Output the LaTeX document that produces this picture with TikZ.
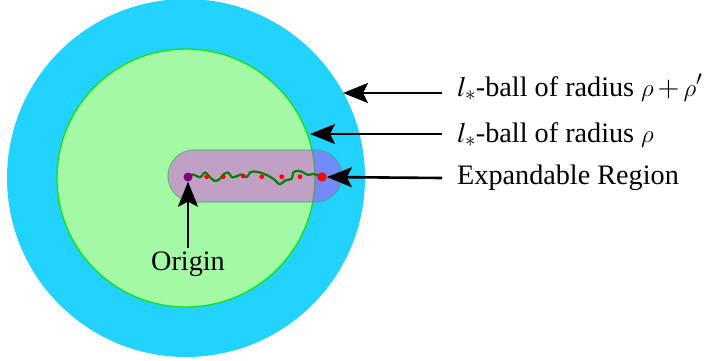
\documentclass[tikz,border=0pt]{standalone}
\usepackage{mathptmx}
\DeclareSymbolFont{cmletters}{OML}{cmm}{m}{it}
\DeclareMathSymbol{\rho}{\mathord}{cmletters}{"1A}
\usepackage[no-math]{fontspec}
\setmainfont{Liberation Serif}
\usetikzlibrary{arrows.meta}
\definecolor{outerc}{RGB}{34,211,255}
\definecolor{innerc}{RGB}{164,249,164}
\definecolor{innerb}{RGB}{20,225,20}
\definecolor{capc}{RGB}{236,30,245}
\definecolor{capb}{RGB}{60,170,120}
\definecolor{pathc}{RGB}{0,128,0}
\tikzset{
  lbl/.style={inner sep=0pt, anchor=base west, font=\fontsize{28.2}{34}\selectfont},
  arr/.style={line width=2.6pt, -{Stealth[length=25pt,width=20pt,inset=5pt]}},
  reddot/.style={fill=red},
}
\begin{document}
\begin{tikzpicture}[x=1pt,y=-1pt]
\useasboundingbox (0,0) rectangle (722,360);
% balls
\fill[outerc] (186,178) circle[radius=179pt];
\filldraw[fill=innerc, draw=innerb, line width=1.3pt] (186,178) circle[radius=129pt];
% expandable region
\filldraw[fill=capc, fill opacity=0.4, draw=capb, draw opacity=0.6, line width=1.2pt, rounded corners=26pt]
  (168,150) rectangle (342,202);
% random walk
\draw[pathc, line width=2.2pt, line join=round] plot[smooth, tension=0.6] coordinates {
 (187.7,176.7) (193.3,174.5) (200,177.2) (205,172.5) (210,177.2) (215,181) (220,178.8)
 (223.3,174.5) (228.3,172.5) (231.7,177.2) (236.7,176.2) (241.7,174.5) (246.7,177.2)
 (250,172.5) (255,171.5) (260,172.5) (266.7,175) (273.3,178.8) (280,184.3) (285,180.5)
 (291.7,178.8) (293.3,172.5) (298.3,170.8) (303.3,172.5) (308.3,175) (313.3,174) (321.7,176.7)};
\foreach \p in {(206.7,176.7),(223.3,176.7),(243.3,176),(261.7,176.7),(281.7,176.7),(300,176.7)}
  \fill[reddot] \p circle[radius=2.4pt];
\node[circle, fill=red, inner sep=0pt, minimum size=9.4pt] (endp) at (322,177) {};
\node[circle, fill={rgb,255:red,128;green,0;blue,128}, inner sep=0pt, minimum size=9pt] (orig) at (188,177) {};
% labels
\node[lbl] (l1) at (457,96) {$l_*$-ball of radius $\rho+\rho'$};
\node[lbl] (l2) at (457,142) {$l_*$-ball of radius $\rho$};
\node[lbl] (l3) at (457,184) {Expandable Region};
\node[lbl, anchor=base] (lo) at (188,270) {Origin};
% arrow coordinates
\coordinate (t1) at (442,93);
\coordinate (h1) at (343,93);
\coordinate (t2) at (442,134);
\coordinate (h2) at (310,134);
\coordinate (t3) at (442,178);
\coordinate (t4) at (188,248);
\draw[arr] (t1) -- (h1);
\draw[arr] (t2) -- (h2);
\draw[arr] (t3) -- (endp.east);
\draw[arr] (t4) -- (orig.south);
\end{tikzpicture}
\end{document}
